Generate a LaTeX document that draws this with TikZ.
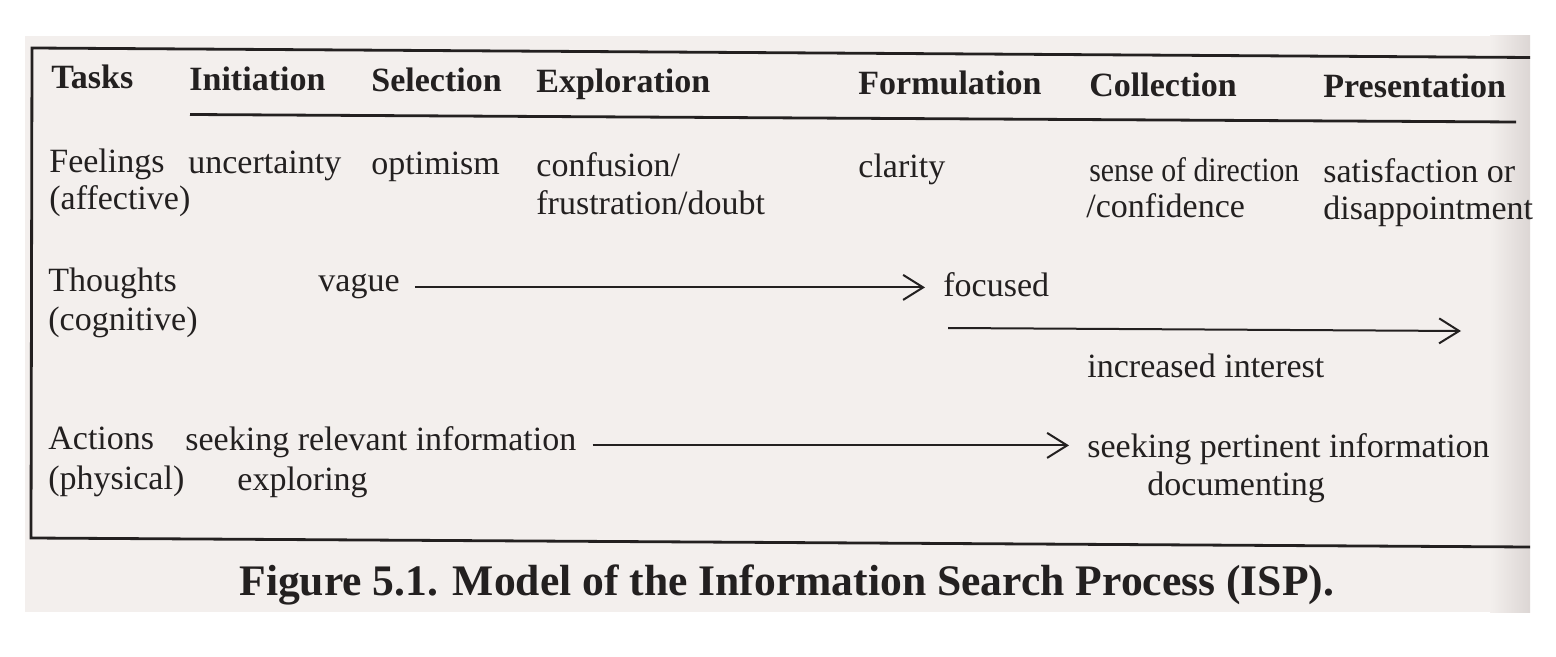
\documentclass[tikz,border=0pt]{standalone}
\usepackage{fontspec}
\setmainfont{Liberation Serif}
\usetikzlibrary{arrows.meta}
\definecolor{page}{RGB}{243,239,237}
\definecolor{gutter}{RGB}{220,214,212}
\definecolor{ink}{RGB}{35,32,32}
\tikzset{
  txt/.style={anchor=base west, inner sep=0pt, text=ink, font=\fontsize{17}{19}\selectfont},
  hdr/.style={anchor=base west, inner sep=0pt, text=ink, font=\fontsize{17}{19}\selectfont\bfseries},
  rulel/.style={draw=ink, line width=1.4pt},
  arr/.style={draw=ink, line width=1pt, -{Straight Barb[length=10pt,width=12.5pt,line width=1pt]}},
}
\begin{document}
\begin{tikzpicture}[x=0.5pt,y=-0.5pt]
\useasboundingbox (0,0) rectangle (1556,657);
% page
\fill[white] (0,0) rectangle (1556,657);
\fill[page] (25,36) rectangle (1530,612);
\shade[left color=page, right color=gutter] (1490,36) rectangle (1530,612);
% box
\draw[rulel] (1530,57.5) -- (32,48) -- (31,538) -- (1530,547);
\draw[rulel] (190,114.5) -- (1516,122);
% headers
\node[hdr] (tasks) at (51,89) {Tasks};
\node[hdr] (init) at (189,91) {Initiation};
\node[hdr] (sel) at (371,92) {Selection};
\node[hdr] (expl) at (536,93) {Exploration};
\node[hdr] (form) at (858,95) {Formulation};
\node[hdr] (coll) at (1089,97) {Collection};
\node[hdr] (pres) at (1323,98) {Presentation};
% feelings
\node[txt] (feel1) at (49,173) {Feelings};
\node[txt] (feel2) at (49,210) {(affective)};
\node[txt] (unc) at (188,174) {uncertainty};
\node[txt] (opt) at (371,175) {optimism};
\node[txt] (conf1) at (536,177) {confusion/};
\node[txt] (conf2) at (536,215) {frustration/doubt};
\node[txt] (clar) at (858,178) {clarity};
\node[txt] (sense1) at (1089,182) {\scalebox{0.875}[1]{sense of direction}};
\node[txt] (sense2) at (1086,218) {/confidence};
\node[txt] (sat1) at (1323,183) {satisfaction or};
\node[txt] (sat2) at (1323,220) {disappointment};
% thoughts
\node[txt] (th1) at (48,292) {Thoughts};
\node[txt] (th2) at (48,330) {(cognitive)};
\node[txt] (vague) at (318,292) {vague};
\node[txt] (focused) at (943,297) {focused};
\node[txt] (incr) at (1087,377) {increased interest};
\coordinate (ia) at (948,328);
\coordinate (ib) at (1461,331);
\draw[arr, shorten <=7.5pt, shorten >=9pt] (vague.mid east) -- (vague.mid east -| focused.west);
\draw[arr] (ia) -- (ib);
% actions
\node[txt] (act1) at (48,449) {Actions};
\node[txt] (act2) at (48,489) {(physical)};
\node[txt] (seekrel) at (185,450) {seeking relevant information};
\node[txt] (expg) at (237,490) {exploring};
\node[txt] (seekpert) at (1087,457) {seeking pertinent information};
\node[txt] (doc) at (1147,495) {documenting};
\draw[arr, shorten <=8pt, shorten >=9pt] (seekrel.mid east) -- (seekrel.mid east -| seekpert.west);
% caption
\node[anchor=base west, inner sep=0pt, text=ink, font=\fontsize{21.8}{24}\selectfont\bfseries] (cap) at (239,595) {Figure 5.1. Model of the Information Search Process (ISP).};
\end{tikzpicture}
\end{document}
